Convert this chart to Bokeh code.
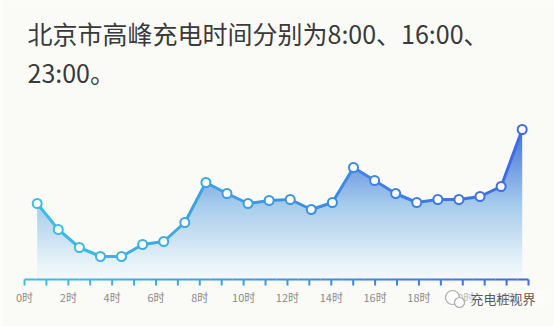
import numpy as np
from bokeh.plotting import figure
from bokeh.models import Range1d, ColumnDataSource
from bokeh.core.properties import value
from bokeh.embed import file_html
from bokeh.resources import INLINE

# ---------------- data ----------------
hours = list(range(24))
load = [76, 50, 32, 23, 23, 35, 38, 57, 97, 86, 76, 79,
        80, 70, 77, 112, 99, 86, 77, 80, 80, 83, 93, 150]
tick_hours = list(range(24))
label_hours = list(range(0, 24, 2))
tick_labels = [f"{h}时" for h in label_hours]
title_lines = ["北京市高峰充电时间分别为8:00、16:00、", "23:00。"]
watermark = "充电桩视界"

# ---------------- layout ----------------
W, H = 554, 326
BG = "#fafaf7"
FONT = "Noto Sans CJK SC"

px_per = (521.7 - 36.7) / 23
x0 = -36.7 / px_per
x1 = x0 + W / px_per
ax_per = (528 - 24) / 23
a0 = -24 / ax_per
a1 = a0 + W / ax_per
base = 279
y0 = -(H - base)
y1 = base

p = figure(width=W, height=H, x_range=Range1d(x0, x1), y_range=Range1d(y0, y1),
           output_backend="svg", toolbar_location=None,
           min_border_left=0, min_border_right=0, min_border_top=0, min_border_bottom=0,
           x_axis_location=None, y_axis_location=None)
p.extra_x_ranges = {"axis": Range1d(a0, a1), "px": Range1d(0, W)}
p.extra_y_ranges = {"px": Range1d(H, 0)}
p.background_fill_color = BG
p.border_fill_color = BG
p.outline_line_color = None
p.xgrid.visible = False
p.ygrid.visible = False

c0 = np.array([60, 192, 226])
c1 = np.array([62, 106, 227])


def grad(f):
    c = c0 + (c1 - c0) * f
    return "#%02x%02x%02x" % tuple(int(round(v)) for v in c)


# ---------------- gradient area ----------------
ymax = max(load)
ny, nx = 300, 240
t = (np.arange(ny) + 0.5) / ny
stops_t = [0, 0.12, 0.5, 0.75, 1]
stops_c = np.array([[246, 249, 250], [230, 242, 248], [166, 204, 236],
                    [116, 158, 228], [70, 112, 224]], dtype=float)
img = np.empty((ny, nx), dtype=np.uint32)
view = img.view(dtype=np.uint8).reshape((ny, nx, 4))
for k in range(3):
    col = np.interp(t, stops_t, stops_c[:, k])
    view[:, :, k] = np.clip(col[:, None] + np.zeros(nx)[None, :], 0, 255).astype(np.uint8)
view[:, :, 3] = 255
p.image_rgba(image=[img], x=0, y=0, dw=23, dh=ymax)
# cover above the curve (slightly wider than the image to avoid edge seams)
cover_x = [hours[0] - 0.3] + hours + [hours[-1] + 0.3]
cover_y = [load[0]] + load + [load[-1]]
p.varea(x=cover_x, y1=cover_y, y2=[ymax + 10] * len(cover_x), fill_color=BG)

# ---------------- line ----------------
seg = ColumnDataSource(dict(
    x0=hours[:-1], x1=hours[1:], y0=load[:-1], y1=load[1:],
    c=[grad((h + 0.5) / 23) for h in hours[:-1]]))
p.segment(x0="x0", y0="y0", x1="x1", y1="y1", line_color="c", line_width=3,
          line_cap="round", source=seg)
pts = ColumnDataSource(dict(x=hours, y=load, c=[grad(h / 23) for h in hours]))
p.scatter(x="x", y="y", size=9, fill_color="white", line_color="c", line_width=2, source=pts)

# ---------------- axis line & ticks (gradient) ----------------
ax_x = np.linspace(0, 23, 47)
axl = ColumnDataSource(dict(x0=ax_x[:-1], x1=ax_x[1:], y=[0] * (len(ax_x) - 1),
                            c=[grad((a + b) / 2 / 23) for a, b in zip(ax_x[:-1], ax_x[1:])]))
p.segment(x0="x0", y0="y", x1="x1", y1="y", line_color="c", line_width=2,
          source=axl, x_range_name="axis")
tk = ColumnDataSource(dict(x=tick_hours, y0=[0] * 24, y1=[-6] * 24,
                           c=[grad(h / 23) for h in tick_hours]))
p.segment(x0="x", y0="y0", x1="x", y1="y1", line_color="c", line_width=2,
          source=tk, x_range_name="axis")

# tick labels, placed on the axis scale
lab = ColumnDataSource(dict(x=label_hours, y=[-17] * len(label_hours), t=tick_labels))
p.text(x="x", y="y", text="t", source=lab, x_range_name="axis",
       text_font=value(FONT), text_font_size="11px", text_color="#8a8a8a",
       text_align="center", text_baseline="middle")

# ---------------- title ----------------
p.text(x=[27, 27], y=[32, 71], text=title_lines, x_range_name="px", y_range_name="px",
       text_font=value(FONT), text_font_size="25px", text_color="#3a3a3a",
       text_baseline="alphabetic", text_align="left")

# ---------------- watermark ----------------
p.rect(x=[494], y=[298], width=[100], height=[17], x_range_name="px", y_range_name="px",
       fill_color="white", fill_alpha=0.4, line_color=None)
p.scatter(x=[452, 459], y=[297, 302], size=[14, 10], x_range_name="px", y_range_name="px",
          fill_color="white", fill_alpha=0.9, line_color="#aaaaaa", line_width=1.2)
p.text(x=[470], y=[298], text=[watermark], x_range_name="px", y_range_name="px",
       text_font=value(FONT), text_font_size="13px", text_color="#5a5a5a",
       text_baseline="middle", text_align="left")

open("out.html", "w").write(file_html(p, INLINE))
